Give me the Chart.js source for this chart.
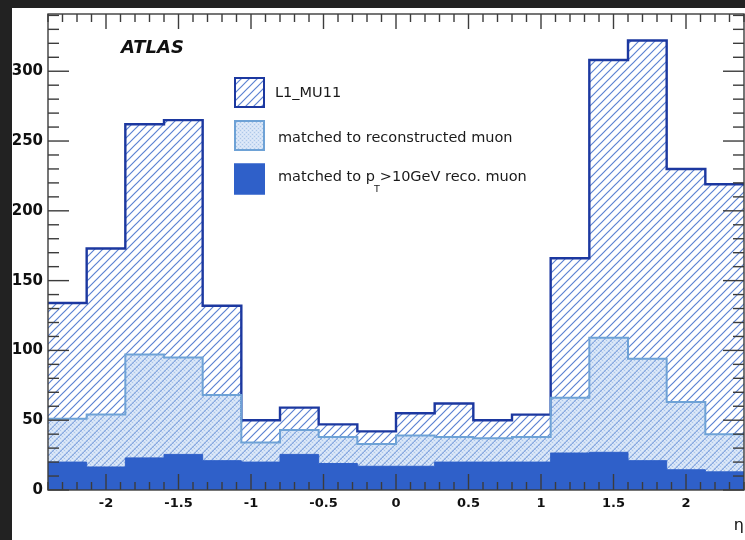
<!DOCTYPE html>
<html><head><meta charset="utf-8">
<script src="https://cdn.jsdelivr.net/npm/chart.js@4.4.1/dist/chart.umd.min.js"></script>
<style>html,body{margin:0;padding:0;background:#202020;overflow:hidden}canvas{display:block}</style>
</head><body>
<canvas id="c" width="745" height="540"></canvas>
<script>
// ---- data ----
const binEdges = [-2.4, -2.1333, -1.8667, -1.6, -1.3333, -1.0667, -0.8, -0.5333, -0.2667, 0,
                  0.2667, 0.5333, 0.8, 1.0667, 1.3333, 1.6, 1.8667, 2.1333, 2.4];
const seriesLabels = ['L1_MU11', 'matched to reconstructed muon', 'matched to p_T>10GeV reco. muon'];
const l1mu11      = [134, 173, 262, 265, 132, 50, 59, 47, 42, 55, 62, 50, 54, 166, 308, 322, 230, 219];
const matchedReco = [51, 54, 97, 95, 68, 34, 43, 38, 33, 39, 38, 37, 38, 66, 109, 94, 63, 40];
const matchedPt10 = [20, 16.5, 23, 25.5, 21, 20, 25.5, 19, 17, 17, 20, 20, 20, 26.5, 27, 21, 14.5, 13];
const xTickValues = [-2, -1.5, -1, -0.5, 0, 0.5, 1, 1.5, 2];
const yTickValues = [0, 50, 100, 150, 200, 250, 300];
const xAxisTitle = 'η';
const experimentLabel = 'ATLAS';

// ---- helpers ----
function stepPoints(vals) {
  const pts = vals.map((v, i) => ({x: binEdges[i], y: v}));
  pts.push({x: binEdges[binEdges.length - 1], y: vals[vals.length - 1]});
  return pts;
}
function hatchPattern() {
  const P = 8, c = document.createElement('canvas');
  c.width = P; c.height = P;
  const g = c.getContext('2d');
  g.strokeStyle = 'rgb(92,130,210)'; g.lineWidth = 1.2;
  g.beginPath();
  g.moveTo(-1, P + 1); g.lineTo(P + 1, -1);
  g.moveTo(-1, 1); g.lineTo(1, -1);
  g.moveTo(P - 1, P + 1); g.lineTo(P + 1, P - 1);
  g.stroke();
  return g.createPattern(c, 'repeat');
}
function dotPattern() {
  const c = document.createElement('canvas');
  c.width = 4; c.height = 4;
  const g = c.getContext('2d');
  g.fillStyle = 'rgba(172,200,238,0.5)'; g.fillRect(0, 0, 4, 4);
  g.fillStyle = 'rgba(228,237,250,0.9)';
  g.fillRect(0, 0, 1, 1); g.fillRect(2, 2, 1, 1);
  g.fillStyle = 'rgba(150,185,228,0.65)';
  g.fillRect(2, 0, 1, 1); g.fillRect(0, 2, 1, 1);
  return g.createPattern(c, 'repeat');
}
const hatch = hatchPattern();
const dots = dotPattern();

const bgPlugin = {
  id: 'bg',
  beforeDraw(chart) {
    const ctx = chart.ctx;
    ctx.save();
    ctx.fillStyle = '#222222'; ctx.fillRect(0, 0, chart.width, chart.height);
    ctx.fillStyle = '#ffffff'; ctx.fillRect(12, 8, chart.width - 12, chart.height - 8);
    ctx.restore();
  }
};

const framePlugin = {
  id: 'frame',
  afterDatasetsDraw(chart) {
    const ctx = chart.ctx, xs = chart.scales.x, ys = chart.scales.y;
    const {left: L, right: R, top: T, bottom: B} = chart.chartArea;
    ctx.save();
    ctx.strokeStyle = '#3c3c3c'; ctx.lineWidth = 1.4;
    const line = (a, b, c, d) => { ctx.beginPath(); ctx.moveTo(a, b); ctx.lineTo(c, d); ctx.stroke(); };
    for (let v = 0; v <= ys.max; v += 10) {
      const y = ys.getPixelForValue(v);
      const len = v % 50 === 0 ? 21 : 11;
      line(L, y, L + len, y); line(R, y, R - len, y);
    }
    for (let k = -24; k <= 24; k++) {
      const x = xs.getPixelForValue(k / 10);
      const major = k % 5 === 0;
      line(x, B, x, B - (major ? 16 : 8));
      line(x, T, x, T + (major ? 15 : 8));
    }
    ctx.strokeRect(L, T, R - L, B - T);

    // experiment label
    ctx.fillStyle = '#111';
    ctx.font = 'italic bold 18px "DejaVu Sans"';
    ctx.textBaseline = 'alphabetic'; ctx.textAlign = 'left';
    ctx.fillText(experimentLabel, 121, 52.5);

    // legend
    const ds = chart.data.datasets;
    const rows = [{y: 77, tx: 275, ty: 97}, {y: 120, tx: 278, ty: 141.5}, {y: 163.5, tx: 278, ty: 180.5}];
    rows.forEach((r, i) => {
      const d = ds[i];
      ctx.fillStyle = '#fff'; ctx.fillRect(234, r.y, 31, 31);
      ctx.fillStyle = d.backgroundColor; ctx.fillRect(234, r.y, 31, 31);
      ctx.strokeStyle = d.borderColor; ctx.lineWidth = 2;
      ctx.strokeRect(235, r.y + 1, 29, 29);
      ctx.fillStyle = '#1a1a1a';
      ctx.font = '14.5px "DejaVu Sans"';
      const lab = d.label;
      if (lab.indexOf('_T') >= 0) {
        const [a, b] = lab.split('_T');
        ctx.fillText(a, r.tx, r.ty);
        let x = r.tx + ctx.measureText(a).width - 1;
        ctx.font = '9.5px "DejaVu Sans"';
        ctx.fillText('T', x, r.ty + 11);
        x += ctx.measureText('T').width;
        ctx.font = '14.5px "DejaVu Sans"';
        ctx.fillText(b, x, r.ty);
      } else {
        ctx.fillText(lab, r.tx, r.ty);
      }
    });
    ctx.restore();
  }
};

new Chart(document.getElementById('c'), {
  type: 'line',
  data: {
    datasets: [
      {label: seriesLabels[0], data: stepPoints(l1mu11), stepped: 'before', fill: 'origin',
       backgroundColor: hatch, borderColor: 'rgb(28,56,160)', borderWidth: 2.4, pointRadius: 0, order: 3},
      {label: seriesLabels[1], data: stepPoints(matchedReco), stepped: 'before', fill: 'origin',
       backgroundColor: dots, borderColor: 'rgb(110,162,214)', borderWidth: 2, pointRadius: 0, order: 2},
      {label: seriesLabels[2], data: stepPoints(matchedPt10), stepped: 'before', fill: 'origin',
       backgroundColor: 'rgb(47,96,201)', borderColor: 'rgb(47,96,201)', borderWidth: 1, pointRadius: 0, order: 1}
    ]
  },
  options: {
    responsive: false, animation: false, devicePixelRatio: 1,
    layout: {padding: {left: 0, top: 9, right: 1, bottom: 0}},
    plugins: {legend: {display: false}, tooltip: {enabled: false}},
    scales: {
      x: {
        type: 'linear', min: -2.4, max: 2.4,
        grid: {display: false, drawTicks: false}, border: {display: false},
        afterBuildTicks: s => { s.ticks = xTickValues.map(v => ({value: v})); },
        afterFit: s => { s.height = 50; },
        ticks: {padding: 6, color: '#111', font: {family: 'DejaVu Sans', weight: 'bold', size: 13}, maxRotation: 0, autoSkip: false,
                callback: v => String(v)},
        title: {display: true, text: xAxisTitle, align: 'end', color: '#111', font: {family: 'DejaVu Sans', size: 16}, padding: {top: 0, bottom: 5}}
      },
      y: {
        type: 'linear', min: 0, max: 341,
        grid: {display: false, drawTicks: false}, border: {display: false},
        afterBuildTicks: s => { s.ticks = yTickValues.map(v => ({value: v})); },
        afterFit: s => { s.width = 48; },
        ticks: {padding: 5, color: '#111', font: {family: 'DejaVu Sans', weight: 'bold', size: 15}, autoSkip: false,
                callback: v => String(v)}
      }
    }
  },
  plugins: [bgPlugin, framePlugin]
});
</script>
</body></html>
